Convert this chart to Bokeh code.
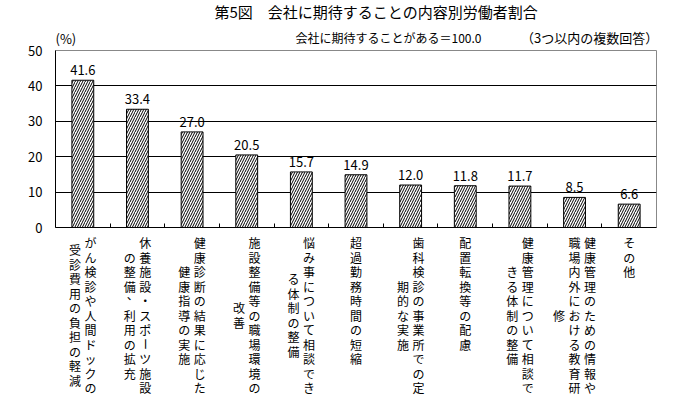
import numpy as np
from bokeh.plotting import figure
from bokeh.layouts import column
from bokeh.models import (ColumnDataSource, LabelSet, Range1d, FixedTicker,
                          LinearAxis, Grid)
from bokeh.core.properties import value
from bokeh.embed import file_html
from bokeh.resources import INLINE

# ---------------- data ----------------
title_text = "第5図　会社に期待することの内容別労働者割合"
subtitle_text = "会社に期待することがある＝100.0"
note_text = "（3つ以内の複数回答）"
unit_text = "(%)"
categories = [
    "がん検診や人間ドックの受診費用の負担の軽減",
    "休養施設・スポーツ施設の整備、利用の拡充",
    "健康診断の結果に応じた健康指導の実施",
    "施設整備等の職場環境の改善",
    "悩み事について相談できる体制の整備",
    "超過勤務時間の短縮",
    "歯科検診の事業所での定期的な実施",
    "配置転換等の配慮",
    "健康管理について相談できる体制の整備",
    "健康管理のための情報や職場内外における教育研修",
    "その他",
]
values = [41.6, 33.4, 27.0, 20.5, 15.7, 14.9, 12.0, 11.8, 11.7, 8.5, 6.6]
y_ticks = [0, 10, 20, 30, 40, 50]

# ---------------- layout (canvas pixels) ----------------
FONT = "Noto Sans CJK JP"
W, H = 657, 395
FL, FR_B = 55, 1            # frame left border / right border
FRAME_T, FRAME_B = 50, 227  # plot area top / bottom on the page canvas
TOP_H = 50                  # title strip: 0 .. 50
MAIN_Y0 = 37                # main figure starts here (overlaps title strip)
MAIN_Y1 = 242
BOT_Y0 = 219                # label strip starts here (overlaps main)
MAIN_H = MAIN_Y1 - MAIN_Y0
BOT_H = H - BOT_Y0
n = len(categories)
YMAX = 50
px_x = (W - FL - FR_B) / n

COMMON = dict(output_backend="svg", toolbar_location=None)

# ---------- title strip ----------
top = figure(width=W, height=TOP_H, x_range=Range1d(0, W), y_range=Range1d(TOP_H, 0),
             min_border_left=0, min_border_right=0, min_border_top=0, min_border_bottom=0,
             x_axis_type=None, y_axis_type=None, title=None, **COMMON)
top.outline_line_color = None
top.grid.visible = False
top.text(x=[350.5], y=[11], text=[title_text], text_align="center", text_baseline="middle",
         text_font=value(FONT), text_font_size="15px", text_color="black")
top.text(x=[364], y=[37], text=[subtitle_text], text_align="center", text_baseline="middle",
         text_font=value(FONT), text_font_size="12px", text_color="black")
top.text(x=[584], y=[37], text=[note_text], text_align="center", text_baseline="middle",
         text_font=value(FONT), text_font_size="13px", text_color="black")
top.text(x=[0], y=[38], text=[unit_text], text_align="left", text_baseline="middle",
         text_font=value(FONT), text_font_size="13px", text_color="black")

# ---------- main plot ----------
xr = Range1d(0, n)
p = figure(width=W, height=MAIN_H, x_range=xr, y_range=Range1d(0, YMAX),
           min_border_left=FL, min_border_right=FR_B,
           min_border_top=FRAME_T - MAIN_Y0, min_border_bottom=MAIN_Y1 - FRAME_B,
           x_axis_type=None, y_axis_type=None, title=None, **COMMON)
p.margin = (MAIN_Y0 - TOP_H, 0, 0, 0)
p.border_fill_color = None
p.background_fill_color = "white"
p.outline_line_color = "#888888"
p.outline_line_width = 1

yaxis = LinearAxis(ticker=FixedTicker(ticks=y_ticks), major_tick_in=0, major_tick_out=0,
                   minor_tick_in=0, minor_tick_out=0, minor_tick_line_color=None,
                   major_label_standoff=13, axis_line_color="black",
                   major_label_text_font=FONT, major_label_text_font_size="13px",
                   major_label_text_color="black")
p.add_layout(yaxis, "left")

xaxis = LinearAxis(ticker=FixedTicker(ticks=list(range(1, n))), major_tick_in=4,
                   major_tick_out=0, minor_tick_line_color=None, minor_tick_in=0,
                   minor_tick_out=0, major_label_standoff=0,
                   axis_line_color="black", major_tick_line_color="black",
                   major_label_text_color=None, major_label_text_font_size="1px",
                   major_label_overrides={i: "" for i in range(1, n)})
p.add_layout(xaxis, "below")

p.add_layout(Grid(dimension=1, ticker=FixedTicker(ticks=y_ticks[1:-1]),
                  grid_line_color="black", grid_line_width=1))

xs = np.arange(n) + 0.5
src = ColumnDataSource(dict(x=xs, top=values, label=[f"{v:.1f}" for v in values]))
p.vbar(x="x", top="top", bottom=0, width=0.4, source=src,
       fill_color="white", line_color="black", line_width=1,
       hatch_pattern="/", hatch_color="black", hatch_scale=5, hatch_weight=1)
p.add_layout(LabelSet(x="x", y="top", text="label", source=src, y_offset=5,
                      text_align="center", text_baseline="bottom",
                      text_font=value(FONT), text_font_size="13px",
                      text_color="black"))

# ---------- vertical category labels ----------
bot = figure(width=W, height=BOT_H, x_range=xr, y_range=Range1d(BOT_H, 0),
             min_border_left=FL, min_border_right=FR_B, min_border_top=0,
             min_border_bottom=0, x_axis_type=None, y_axis_type=None, title=None,
             **COMMON)
bot.margin = (BOT_Y0 - MAIN_Y1, 0, 0, 0)
bot.outline_line_color = None
bot.border_fill_color = None
bot.background_fill_color = None
bot.grid.visible = False

CHUNK = 11
COL_SP = 15.5
ROW0 = FRAME_B + 15.0 - BOT_Y0   # first row centre
ROW_SP = 14.5
cx, cy, ct, ca = [], [], [], []
for i, name in enumerate(categories):
    cols = [name[k:k + CHUNK] for k in range(0, len(name), CHUNK)]
    m = len(cols)
    R = len(cols[0])
    for j, col in enumerate(cols):
        off_px = ((m - 1) / 2 - j) * COL_SP
        start = (R - len(col)) / 2
        for r, ch in enumerate(col):
            xo = off_px
            yo = ROW0 + (start + r) * ROW_SP
            ang = 0.0
            if ch == "ー":
                ang = np.pi / 2
            if ch == "、":
                xo += 3
                yo -= 6
            cx.append(xs[i] + xo / px_x)
            cy.append(yo)
            ct.append(ch)
            ca.append(ang)
csrc = ColumnDataSource(dict(x=cx, y=cy, text=ct, angle=ca))
bot.text(x="x", y="y", text="text", angle="angle", source=csrc,
         text_align="center", text_baseline="middle",
         text_font=value(FONT), text_font_size="12px", text_color="black")

layout = column(top, p, bot, spacing=0)
open("out.html", "w").write(file_html(layout, INLINE))
